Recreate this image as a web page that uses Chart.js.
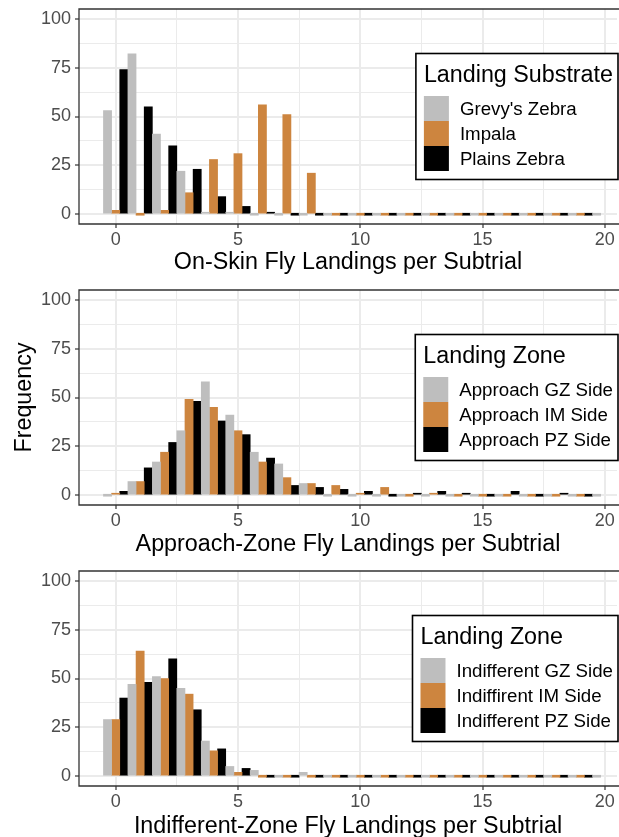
<!DOCTYPE html>
<html>
<head>
<meta charset="utf-8">
<script src="https://cdn.jsdelivr.net/npm/chart.js@4.4.1/dist/chart.umd.min.js"></script>
<style>
  html, body { margin: 0; padding: 0; background: #ffffff; }
  #wrap { position: relative; width: 619px; height: 837px; overflow: hidden; background: #ffffff; }
  #wrap canvas { position: absolute; left: 0; }
</style>
</head>
<body>
<div id="wrap">
  <canvas id="onSkin"></canvas>
  <canvas id="approach"></canvas>
  <canvas id="indifferent"></canvas>
</div>
<script>
// Fly landings per subtrial (bin centres); the grey series carries one extra empty bin
const landingBins = [0, 1, 2, 3, 4, 5, 6, 7, 8, 9, 10, 11, 12, 13, 14, 15, 16, 17, 18, 19, 20];

// Axis breaks (major and minor)
const xBreaks = [0, 2.5, 5, 7.5, 10, 12.5, 15, 17.5, 20];
const yBreaks = [0, 12.5, 25, 37.5, 50, 62.5, 75, 87.5, 100];

// On-skin landings
const onSkinGrevy  = [53, 82, 41, 22, 1, 1, 0, 0, 0, 0, 0, 0, 0, 0, 0, 0, 0, 0, 0, 0, 0];
const onSkinImpala = [2, 0, 2, 11, 28, 31, 56, 51, 21, 0, 0, 0, 0, 0, 0, 0, 0, 0, 0, 0];
const onSkinPlains = [74, 55, 35, 23, 9, 4, 1, 0, 0, 0, 0, 0, 0, 0, 0, 0, 0, 0, 0, 0];

// Approach-zone landings
const approachGZ = [0, 7, 17, 33, 58, 41, 22, 16, 6, 0, 0, 0, 0, 0, 0, 0, 0, 0, 0, 0, 0];
const approachIM = [1, 7, 22, 49, 45, 33, 17, 9, 6, 5, 1, 4, 0, 1, 0, 0, 0, 0, 0, 0];
const approachPZ = [2, 14, 27, 48, 38, 31, 19, 5, 4, 3, 2, 0, 1, 2, 1, 0, 2, 0, 1, 0];

// Indifferent-zone landings
const indifferentGZ = [29, 47, 51, 45, 18, 5, 3, 0, 2, 0, 0, 0, 0, 0, 0, 0, 0, 0, 0, 0, 0];
const indifferentIM = [29, 64, 50, 42, 13, 2, 0, 0, 0, 0, 0, 0, 0, 0, 0, 0, 0, 0, 0, 0];
const indifferentPZ = [40, 48, 60, 34, 14, 4, 0, 0, 0, 0, 0, 0, 0, 0, 0, 0, 0, 0, 0, 0];

const FONT = "'Liberation Sans', Arial, Helvetica, sans-serif";
const FILLS = ['#bebebe', '#cd853f', '#000000'];
const GRID = '#ebebeb';
const DARK = '#333333';
const TICK_TEXT = '#4d4d4d';

// Panel frame along the top, left and bottom of the plotting area
const panelFrame = {
  id: 'panelFrame',
  afterDraw(chart) {
    const { ctx, chartArea: a } = chart;
    ctx.save();
    ctx.strokeStyle = DARK;
    ctx.lineWidth = 1.3;
    ctx.beginPath();
    ctx.moveTo(a.right + 2, a.top);
    ctx.lineTo(a.left, a.top);
    ctx.lineTo(a.left, a.bottom);
    ctx.lineTo(a.right + 2, a.bottom);
    ctx.stroke();
    ctx.restore();
  }
};

// Boxed legend placed inside the panel, right-aligned
const insetLegend = {
  id: 'insetLegend',
  afterDraw(chart, args, opts) {
    const { ctx, chartArea: a } = chart;
    const titleSize = 23.3, labelSize = 18.7;
    const titleFont = titleSize + 'px ' + FONT;
    const labelFont = labelSize + 'px ' + FONT;
    const key = 25, gap = 11, padL = 8, padR = 5, boxH = 126;
    ctx.save();
    ctx.font = titleFont;
    const tw = ctx.measureText(opts.title).width;
    ctx.font = labelFont;
    const lw = Math.max(...chart.data.datasets.map(d => ctx.measureText(d.label).width));
    const w = padL + Math.max(tw, key + gap + lw) + padR;
    const right = a.right + 1;
    const left = right - w;
    const top = a.top + 44.5;
    ctx.fillStyle = '#ffffff';
    ctx.fillRect(left, top, w, boxH);
    ctx.strokeStyle = '#000000';
    ctx.lineWidth = 1.6;
    ctx.strokeRect(left, top, w, boxH);
    ctx.textAlign = 'left';
    ctx.textBaseline = 'alphabetic';
    ctx.fillStyle = '#000000';
    ctx.font = titleFont;
    ctx.fillText(opts.title, left + padL, top + 28.4);
    chart.data.datasets.forEach((d, i) => {
      const ky = top + 42.5 + i * key;
      ctx.fillStyle = d.backgroundColor;
      ctx.fillRect(left + padL, ky, key, key);
      ctx.fillStyle = '#000000';
      ctx.font = labelFont;
      ctx.fillText(d.label, left + padL + key + gap, ky + key / 2 + 0.36 * labelSize);
    });
    ctx.restore();
  }
};

const isMajor = (v, step) => Math.abs(v / step - Math.round(v / step)) < 1e-6;
const tickIsMajor = (c, step) => !!(c && c.tick) && isMajor(c.tick.value, step);

function drawPanel(id, p) {
  const canvas = document.getElementById(id);
  canvas.width = 619;
  canvas.height = p.height;
  canvas.style.width = '619px';
  canvas.style.height = p.height + 'px';
  canvas.style.top = p.top + 'px';

  const gridFor = step => ({
    color: GRID,
    offset: false,
    lineWidth: c => tickIsMajor(c, step) ? 2 : 1,
    drawTicks: true,
    tickLength: 4,
    tickWidth: 1.2,
    tickColor: c => tickIsMajor(c, step) ? DARK : 'rgba(0,0,0,0)'
  });

  new Chart(canvas, {
    type: 'bar',
    data: {
      labels: landingBins,
      datasets: p.series.map((s, i) => ({
        label: s.name,
        data: s.values,
        backgroundColor: FILLS[i],
        borderWidth: 0,
        minBarLength: 2,
        categoryPercentage: 1,
        barPercentage: 1
      }))
    },
    options: {
      responsive: false,
      animation: false,
      devicePixelRatio: 1,
      layout: { padding: { top: p.padTop, right: 2, bottom: 0, left: 0 } },
      plugins: {
        legend: { display: false },
        tooltip: { enabled: false },
        insetLegend: { title: p.legendTitle }
      },
      scales: {
        x: {
          type: 'linear',
          offset: false,
          min: -1.5,
          max: 20.5,
          afterBuildTicks: s => { s.ticks = xBreaks.map(v => ({ value: v })); },
          afterFit: s => { s.height = p.axisHeight; s.paddingLeft = 0; s.paddingRight = 0; },
          grid: gridFor(5),
          border: { display: false },
          ticks: {
            autoSkip: false,
            maxRotation: 0,
            padding: 1.5,
            color: TICK_TEXT,
            font: { family: FONT, size: 18 },
            callback: v => isMajor(v, 5) ? String(v) : ''
          },
          title: {
            display: true,
            text: p.xTitle,
            color: '#000000',
            font: { family: FONT, size: 23.3 },
            padding: { top: 0, bottom: 2 }
          }
        },
        y: {
          min: -5,
          max: 105,
          afterBuildTicks: s => { s.ticks = yBreaks.map(v => ({ value: v })); },
          afterFit: s => { s.width = 79; s.paddingTop = 0; s.paddingBottom = 0; },
          grid: gridFor(25),
          border: { display: false },
          ticks: {
            padding: 4,
            color: TICK_TEXT,
            font: { family: FONT, size: 18 },
            callback: v => isMajor(v, 25) ? String(v) : ''
          },
          title: {
            display: !!p.yTitle,
            text: p.yTitle || '',
            color: '#000000',
            font: { family: FONT, size: 23.3 },
            padding: { top: 11, bottom: 0 }
          }
        }
      }
    },
    plugins: [panelFrame, insetLegend]
  });
}

drawPanel('onSkin', {
  top: 0, height: 279, padTop: 9, axisHeight: 55,
  xTitle: 'On-Skin Fly Landings per Subtrial',
  legendTitle: 'Landing Substrate',
  series: [
    { name: "Grevy's Zebra", values: onSkinGrevy },
    { name: 'Impala', values: onSkinImpala },
    { name: 'Plains Zebra', values: onSkinPlains }
  ]
});

drawPanel('approach', {
  top: 279, height: 282, padTop: 11, axisHeight: 56,
  xTitle: 'Approach-Zone Fly Landings per Subtrial',
  yTitle: 'Frequency',
  legendTitle: 'Landing Zone',
  series: [
    { name: 'Approach GZ Side', values: approachGZ },
    { name: 'Approach IM Side', values: approachIM },
    { name: 'Approach PZ Side', values: approachPZ }
  ]
});

drawPanel('indifferent', {
  top: 558, height: 285, padTop: 13, axisHeight: 57,
  xTitle: 'Indifferent-Zone Fly Landings per Subtrial',
  legendTitle: 'Landing Zone',
  series: [
    { name: 'Indifferent GZ Side', values: indifferentGZ },
    { name: 'Indiffirent IM Side', values: indifferentIM },
    { name: 'Indifferent PZ Side', values: indifferentPZ }
  ]
});
</script>
</body>
</html>
